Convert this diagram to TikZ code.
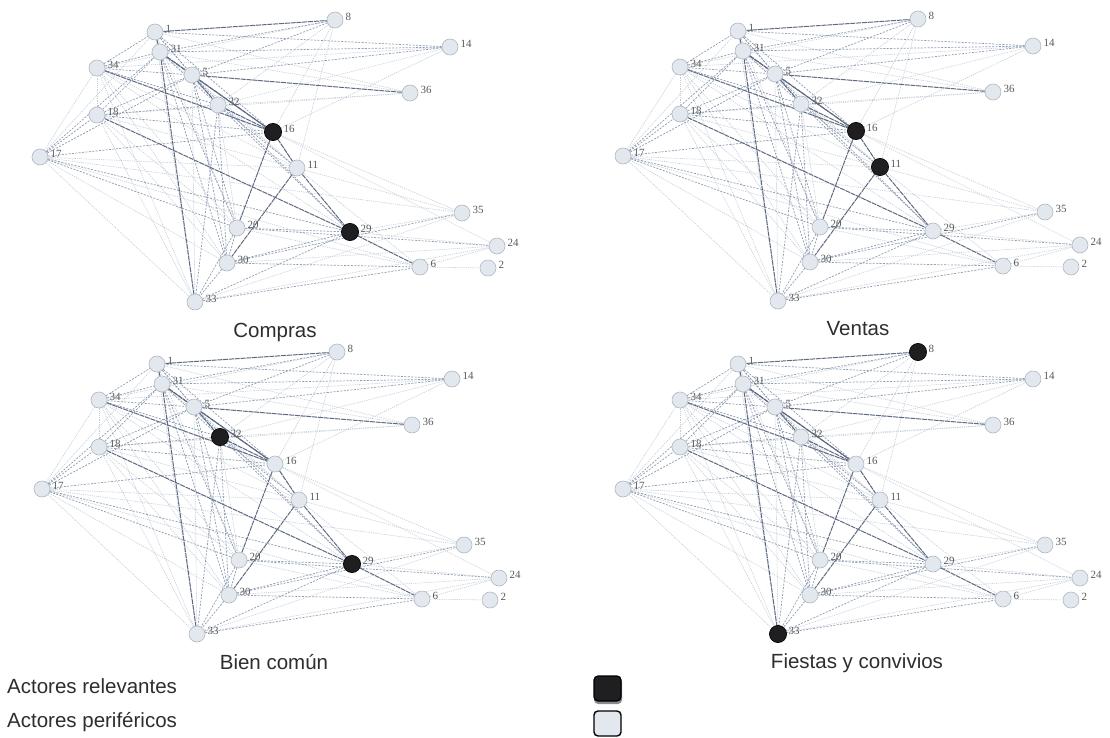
\documentclass[tikz,border=0pt]{standalone}
\usepackage{fontspec}
\setmainfont{Liberation Sans}
\newfontfamily\labfont{Liberation Serif}
\pgfdeclarelayer{bgfill}
\pgfdeclarelayer{edges}
\pgfsetlayers{bgfill,edges,main}
\definecolor{edlight}{HTML}{C3CDD8}
\definecolor{edmid}{HTML}{8E9CB1}
\definecolor{eddark}{HTML}{5E6A82}
\definecolor{nodefill}{HTML}{E2E8EE}
\definecolor{nodeline}{HTML}{AEB8C2}
\definecolor{relfill}{HTML}{1F1F22}
\definecolor{txt}{HTML}{2E2E2E}
\tikzset{
  nd/.style={circle, minimum size=16pt, inner sep=0pt, fill=nodefill, draw=nodeline, line width=0.6pt},
  lab/.style={font=\labfont\fontsize{11}{12}\selectfont, text=black!65, inner sep=1pt, xshift=1pt, yshift=3pt},
  elight/.style={draw=edlight, line width=0.6pt, dash pattern=on 1.2pt off 1pt},
  emid/.style={draw=edmid, line width=0.7pt, dash pattern=on 2pt off 1.4pt},
  edark/.style={draw=eddark, line width=1pt, dash pattern=on 5pt off 0.8pt},
  relv/.style={fill=relfill, draw=black},
  title/.style={font=\fontsize{20.5}{22}\selectfont, text=txt, inner sep=0pt},
}
\newcommand\netpanel[2]{%
  \foreach \id/\px/\py in {1/155/32, 31/160/52, 34/97/68, 5/192/75, 8/335/20, 14/450/47, 36/410/93,
     32/218/105, 18/97/115, 16/273/132, 17/40/157, 11/297/168, 35/462/213, 20/237/228,
     29/350/232, 24/497/246, 30/227/263, 6/420/267, 2/488/268, 33/195/302}
    {\node[nd, label={[lab]0:\id}] (#1n\id) at (\px,\py) {};}
  \foreach \h in {#2} {\path[relv, line width=0.6pt] (#1n\h) circle (8.6pt);}
  \begin{pgfonlayer}{edges}
  \foreach \a/\b in {8/16, 8/34, 8/32, 14/34, 14/32, 36/32, 36/18, 16/35, 11/35, 29/35, 29/24, 6/2, 6/24,
     33/35, 33/24, 17/33, 17/30, 17/6, 17/34, 17/1, 34/18, 34/33, 18/33, 18/30, 18/20, 18/11, 34/29,
     34/20, 34/11, 30/24, 20/6, 11/6, 16/24, 1/33, 1/20, 5/11, 31/11, 17/35, 14/16, 8/11, 1/36,
     31/36, 34/30, 17/11, 32/20, 5/33}
    {\draw[elight] (#1n\a) -- (#1n\b);}
  \foreach \a/\b in {5/30, 5/20, 32/30, 32/33, 31/20, 31/30, 1/5, 34/31, 34/5, 34/32, 18/5, 18/31,
     18/32, 18/16, 34/1, 17/5, 17/31, 17/16, 17/29, 17/20, 30/6, 30/29, 20/29, 33/6, 33/29, 30/35,
     20/24, 8/31, 8/5, 14/31, 14/5, 14/1, 5/29, 32/11, 32/29, 20/30, 30/33, 20/33, 1/16, 1/32,
     17/18, 31/32}
    {\draw[emid] (#1n\a) -- (#1n\b);}
  \foreach \a/\b in {1/31, 31/16, 5/16, 32/16, 16/11, 11/29, 29/6, 16/20, 11/30, 31/33, 34/16,
     18/29, 5/36, 1/8, 31/5, 5/32}
    {\draw[edark] (#1n\a) -- (#1n\b);}
  \end{pgfonlayer}
}
\begin{document}
\begin{tikzpicture}[x=1pt, y=-1pt]
\begin{pgfonlayer}{bgfill}
\path[fill=white] (0,0) rectangle (1110,738);
\end{pgfonlayer}
\useasboundingbox (0,0) rectangle (1110,738);

\begin{scope}[shift={(0,0)}]
  \netpanel{a}{16,29}
\end{scope}
\begin{scope}[shift={(583,-1)}]
  \netpanel{b}{16,11}
\end{scope}
\begin{scope}[shift={(2,332)}]
  \netpanel{c}{32,29}
\end{scope}
\begin{scope}[shift={(583,332)}]
  \netpanel{d}{8,33}
\end{scope}

\node[title, anchor=base] (tcompras) at (275,337) {Compras};
\node[title, anchor=base] (tventas) at (858,335) {Ventas};
\node[title, anchor=base] (tbien) at (274,669) {Bien común};
\node[title, anchor=base] (tfiestas) at (857,668) {Fiestas y convivios};

\node[title, anchor=base west] (lrel) at (7,693) {Actores relevantes};
\node[title, anchor=base west] (lper) at (7,727) {Actores periféricos};

\path[fill=black!45, rounded corners=4pt] (594,678) rectangle (622,704);
\node[draw=black, line width=1.2pt, fill=relfill, rounded corners=4pt, minimum width=27pt, minimum height=25pt, inner sep=0pt] (srel) at (607.5,688.5) {};
\node[draw=black, line width=1.4pt, fill=nodefill, rounded corners=4pt, minimum width=27pt, minimum height=25pt, inner sep=0pt] (sper) at (607.5,723.5) {};
\end{tikzpicture}
\end{document}
